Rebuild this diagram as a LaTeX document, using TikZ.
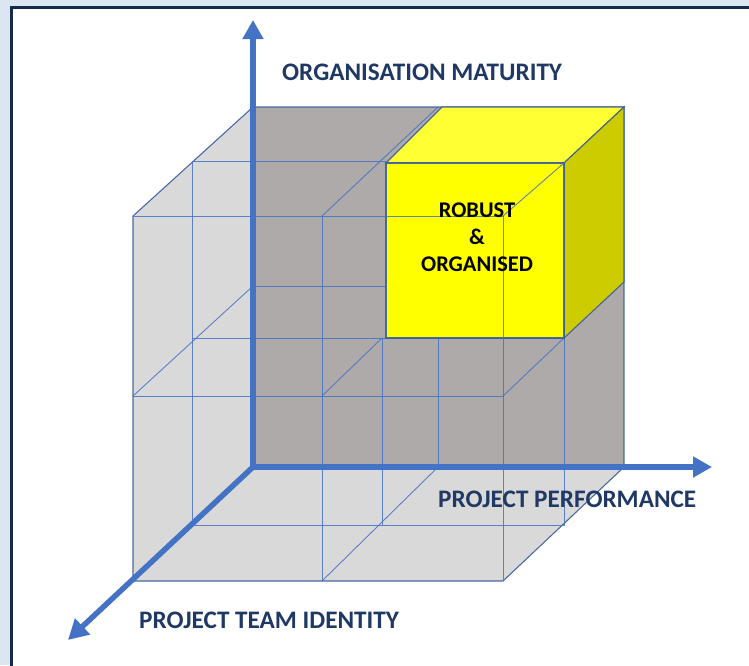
\documentclass[tikz,border=0pt]{standalone}
\usepackage{fontspec}
\setmainfont{Carlito}
\usepackage{xcolor}
\usetikzlibrary{arrows.meta}

\definecolor{axisblue}{HTML}{4472C4}
\definecolor{edgeblue}{HTML}{3A5C9C}
\definecolor{navy}{HTML}{1F3864}
\definecolor{wallgray}{HTML}{AEAAAA}
\definecolor{facegray}{HTML}{D9D9D9}
\definecolor{paleblue}{HTML}{DCE6F2}
\definecolor{frameblue}{HTML}{172B48}
\definecolor{cubefront}{HTML}{FFFF00}
\definecolor{cubetop}{HTML}{FFFF33}
\definecolor{cubeside}{HTML}{CCCC00}

\begin{document}
\begin{tikzpicture}[x=1pt,y=-1pt,
    gridline/.style={axisblue, line width=0.9pt, draw opacity=0.85},
    cubeedge/.style={edgeblue, line width=1.1pt, draw opacity=0.9},
    axis/.style={axisblue, line width=5.5pt},
    axislabel/.style={navy, font=\fontsize{25.2}{30}\selectfont\bfseries, inner sep=0pt, anchor=west},
    cubetext/.style={black, font=\fontsize{22.4}{27}\selectfont\bfseries, align=center, inner sep=0pt}]
            \useasboundingbox (0,0) rectangle (749,665);
            \fill[paleblue] (0,0) rectangle (749,665);
            \draw[frameblue, line width=3pt, fill=white] (11,7.5) rectangle (770,690);
            \coordinate (O) at (253,467);
            \coordinate (TL) at (253,107);
            \coordinate (TR) at (624,107);
            \coordinate (BR) at (624,467);
            \coordinate (FTL) at (133,216);
            \coordinate (FBL) at (133,581);
            \coordinate (FBR) at (503,581);
            \coordinate (FTR) at (503,216);
            \fill[facegray] (TL) -- (FTL) -- (FBL) -- (O) -- cycle;
            \fill[facegray] (O) -- (BR) -- (FBR) -- (FBL) -- cycle;
            \fill[wallgray] (TL) rectangle (BR);
            \draw[cubeedge] (TL) -- (FTL) -- (FBL) -- (FBR) -- (BR) -- (TR) -- cycle;
            \draw[gridline] (192,161) -- (386,161);
            \draw[gridline] (192,161) -- (192,525) -- (564,525) -- (564,338);
            \draw[gridline] (192,338) -- (564,338);
            \draw[gridline] (382,338) -- (382,525);
            \draw[gridline] (322,216) -- (322,581);
            \draw[gridline] (133,396) -- (503,396);
            \draw[gridline] (253,286) -- (386,286);
            \draw[gridline] (438,338) -- (438,467);
            \draw[gridline] (253,286) -- (133,396);
            \draw[gridline] (438,107) -- (322,216);
            \draw[gridline] (438,467) -- (322,581);
            \draw[gridline] (322,396) -- (382,338);
            \draw[gridline] (503,396) -- (564,338);
            \coordinate (YA) at (386,163);
            \coordinate (YB) at (564,163);
            \coordinate (YC) at (564,338);
            \coordinate (YE) at (442,107);
            \coordinate (YG) at (624,282);
            \filldraw[cubeedge, fill=cubetop] (YA) -- (YE) -- (TR) -- (YB) -- cycle;
            \filldraw[cubeedge, fill=cubeside] (YB) -- (TR) -- (YG) -- (YC) -- cycle;
            \filldraw[cubeedge, fill=cubefront] (YA) rectangle (YC);
            \draw[gridline] (FTL) -- (FTR) -- (FBR);
            \draw[gridline] (FTR) -- (YB);
            \node[cubetext] (robust) at (477,237) {ROBUST\\\&\\ORGANISED};
            \coordinate (ytip) at (253,20);
            \coordinate (xtip) at (712,467);
            \coordinate (ztip) at (68,640);
            \draw[axis, {Triangle[length=19pt,width=20pt]}-{Triangle[length=19pt,width=20pt]}] (ytip) -- (O) -- (xtip);
            \draw[axis, -{Triangle[length=20pt,width=21pt]}, shorten <=-2pt] (O) -- (ztip);
            \node[axislabel] (maturity) at (282,72) {ORGANISATION MATURITY};
            \node[axislabel] (performance) at (438,499) {PROJECT PERFORMANCE};
            \node[axislabel] (identity) at (139,620) {PROJECT TEAM IDENTITY};
        \end{tikzpicture}
\end{document}
